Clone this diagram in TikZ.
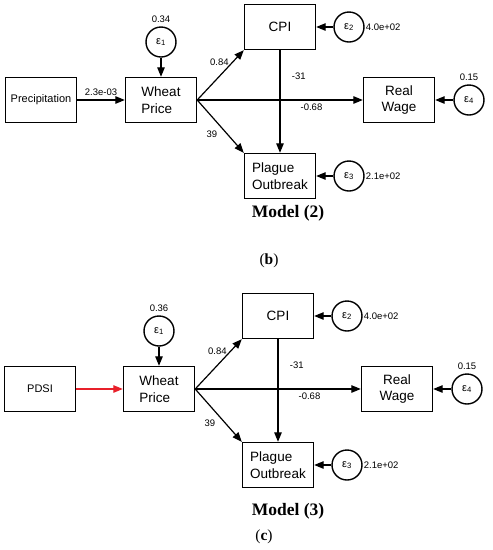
\documentclass[tikz,border=0pt]{standalone}
\usepackage{fontspec}
\setmainfont{Liberation Serif}
\newfontfamily\statafont{Liberation Sans}
\usetikzlibrary{arrows.meta, positioning}
\definecolor{pathred}{HTML}{E8202A}

\begin{document}
\begin{tikzpicture}[
        x=1pt, y=-1pt,
        var/.style={rectangle, draw, line width=1.4pt, minimum width=71pt, minimum height=45pt, inner sep=2pt, align=center, font=\statafont\fontsize{13.5}{16.5}\selectfont},
        smallvar/.style={var, font=\statafont\fontsize{11}{12}\selectfont},
        err/.style={circle, draw, line width=1.4pt, minimum size=30pt, inner sep=0pt, font=\statafont\fontsize{11}{12}\selectfont},
        coef/.style={font=\statafont\fontsize{9.5}{11}\selectfont},
        arrow/.style={-{Triangle[length=9.5pt, width=7.5pt]}, line width=1.2pt},
        caption/.style={font=\bfseries\fontsize{17.5}{20}\selectfont},
        sublabel/.style={font=\fontsize{15.5}{18}\selectfont}
    ]
    \useasboundingbox (0,0) rectangle (493,550);

    % Model (2)
    \node[smallvar] (prec) at (41,100) {Precipitation};
    \node[var, align=left] (wheat2) at (161,100) {Wheat\\Price};
    \node[err, label={[coef]above:0.34}] (e1m2) at (161,42) {ε\textsubscript{1}};
    \node[var] (cpi2) at (280,27) {CPI};
    \node[err, label={[coef, inner sep=1pt]right:4.0e+02}] (e2m2) at (349,27) {ε\textsubscript{2}};
    \node[var, align=left] (plague2) at (280,176) {Plague\\Outbreak};
    \node[err, label={[coef, inner sep=1pt]right:2.1e+02}] (e3m2) at (349,176) {ε\textsubscript{3}};
    \node[var] (real2) at (399,100) {Real\\Wage};
    \node[err, label={[coef]above:0.15}] (e4m2) at (469,100) {ε\textsubscript{4}};

    \draw[arrow] (prec) -- node[coef, above] {2.3e-03} (wheat2);
    \draw[arrow] (e1m2) -- (wheat2);
    \draw[arrow] (wheat2.east) -- node[coef, left, pos=0.76] {0.84} (cpi2.south west);
    \draw[arrow] (wheat2.east) -- node[coef, left=6pt, pos=0.64] {39} (plague2.north west);
    \draw[arrow] (wheat2.east) -- node[coef, below, pos=0.69] {-0.68} (real2);
    \draw[arrow] (cpi2) -- node[coef, right=8pt, pos=0.25] {-31} (plague2);
    \draw[arrow] (e2m2) -- (cpi2);
    \draw[arrow] (e3m2) -- (plague2);
    \draw[arrow] (e4m2) -- (real2);

    \node[caption] (model2) at (288,213) {Model (2)};
    \node[sublabel] (panelb) at (269,261) {({\bfseries b})};

    % Model (3)
    \begin{scope}[shift={(-2,289)}]
    \node[smallvar] (pdsi) at (42,100) {PDSI};
    \node[var, align=left] (wheat3) at (161,100) {Wheat\\Price};
    \node[err, label={[coef]above:0.36}] (e1m3) at (161,42) {ε\textsubscript{1}};
    \node[var] (cpi3) at (280,27) {CPI};
    \node[err, label={[coef, inner sep=1pt]right:4.0e+02}] (e2m3) at (349,27) {ε\textsubscript{2}};
    \node[var, align=left] (plague3) at (280,176) {Plague\\Outbreak};
    \node[err, label={[coef, inner sep=1pt]right:2.1e+02}] (e3m3) at (349,176) {ε\textsubscript{3}};
    \node[var] (real3) at (399,100) {Real\\Wage};
    \node[err, label={[coef]above:0.15}] (e4m3) at (469,100) {ε\textsubscript{4}};

    \draw[arrow, pathred] (pdsi) -- (wheat3);
    \draw[arrow] (e1m3) -- (wheat3);
    \draw[arrow] (wheat3.east) -- node[coef, left, pos=0.76] {0.84} (cpi3.south west);
    \draw[arrow] (wheat3.east) -- node[coef, left=6pt, pos=0.64] {39} (plague3.north west);
    \draw[arrow] (wheat3.east) -- node[coef, below, pos=0.69] {-0.68} (real3);
    \draw[arrow] (cpi3) -- node[coef, right=8pt, pos=0.25] {-31} (plague3);
    \draw[arrow] (e2m3) -- (cpi3);
    \draw[arrow] (e3m3) -- (plague3);
    \draw[arrow] (e4m3) -- (real3);
    \end{scope}

    \node[caption] (model3) at (288,511) {Model (3)};
    \node[sublabel] (panelc) at (264,537) {({\bfseries c})};
\end{tikzpicture}
\end{document}
